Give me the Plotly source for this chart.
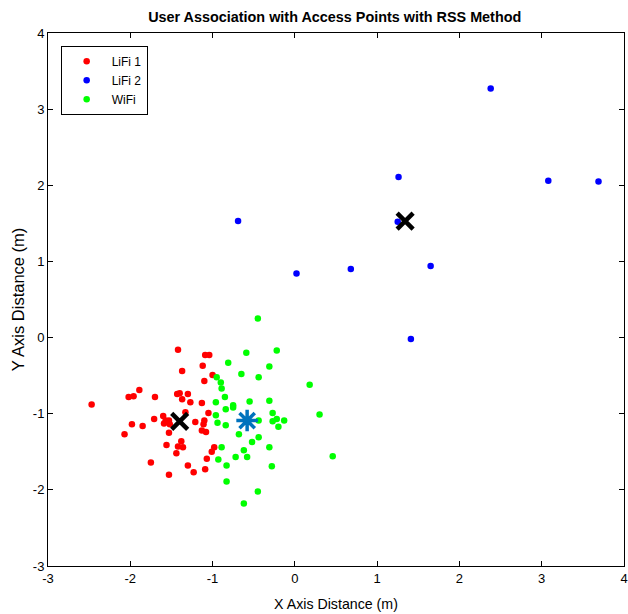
import plotly.graph_objects as go

# Users associated with LiFi AP 1
lifi1_x = [-1.42, -1.09, -1.04, -1.12, -1.37, -1.00, -1.10, -1.89, -2.02, -1.96,
           -1.70, -1.43, -1.40, -1.30, -1.37, -1.27, -1.13, -2.47, -1.33, -1.05,
           -1.60, -1.53, -1.59, -1.52, -1.57, -1.71, -1.21, -1.10, -1.11, -1.98,
           -1.85, -2.07, -1.13, -1.08, -1.53, -1.38, -1.56, -1.42, -1.36, -0.98,
           -1.01, -1.44, -1.07, -1.75, -1.30, -1.53, -1.23, -1.09]
lifi1_y = [-0.16, -0.23, -0.23, -0.37, -0.44, -0.49, -0.57, -0.69, -0.78, -0.77,
           -0.78, -0.74, -0.73, -0.74, -0.81, -0.85, -0.86, -0.88, -0.98, -0.99,
           -1.03, -1.09, -1.13, -1.14, -1.09, -1.07, -1.11, -1.09, -1.14, -1.14,
           -1.16, -1.27, -1.22, -1.24, -1.25, -1.36, -1.41, -1.43, -1.44, -1.44,
           -1.50, -1.52, -1.59, -1.64, -1.68, -1.80, -1.77, -1.73]

# Users associated with LiFi AP 2
lifi2_x = [2.38, 1.26, 3.08, 3.69, -0.69, 1.25, 0.02, 0.68, 1.65, 1.41]
lifi2_y = [3.27, 2.11, 2.06, 2.05, 1.53, 1.52, 0.84, 0.90, 0.94, -0.02]

# Users associated with the WiFi AP
wifi_x = [-0.45, -0.59, -0.22, -0.81, -0.31, -0.65, -0.44, -0.95, -0.90, -0.89,
          0.18, -0.85, -0.55, -0.31, -0.96, -0.84, -0.75, -0.75, -0.27, 0.30,
          -0.96, -0.44, -0.27, -0.22, -0.13, -0.94, -0.84, -0.20, -0.68, -0.44,
          -0.52, -0.89, -0.31, -0.62, 0.46, -0.72, -0.58, -0.93, -0.83, -0.28,
          -0.83, -0.45, -0.62]
wifi_y = [0.25, -0.20, -0.17, -0.33, -0.38, -0.48, -0.52, -0.52, -0.59, -0.67,
          -0.62, -0.78, -0.84, -0.83, -0.85, -0.94, -0.89, -0.92, -0.99, -1.01,
          -1.02, -1.09, -1.10, -1.07, -1.09, -1.12, -1.15, -1.17, -1.27, -1.31,
          -1.37, -1.44, -1.44, -1.48, -1.56, -1.57, -1.57, -1.60, -1.68, -1.69,
          -1.89, -2.02, -2.18]

# Access point locations
lifi_ap_x = [-1.40, 1.34]
lifi_ap_y = [-1.10, 1.53]
wifi_ap_x = [-0.58]
wifi_ap_y = [-1.09]

x_ticks = [-3, -2, -1, 0, 1, 2, 3, 4]
y_ticks = [-3, -2, -1, 0, 1, 2, 3, 4]

FONT = "Liberation Sans, Arial, sans-serif"

fig = go.Figure()
dot = dict(symbol="circle", size=6.5, line=dict(width=0))
fig.add_trace(go.Scatter(x=lifi1_x, y=lifi1_y, mode="markers", name="LiFi 1",
                         marker=dict(color="#FF0000", **dot)))
fig.add_trace(go.Scatter(x=lifi2_x, y=lifi2_y, mode="markers", name="LiFi 2",
                         marker=dict(color="#0000FF", **dot)))
fig.add_trace(go.Scatter(x=wifi_x, y=wifi_y, mode="markers", name="WiFi",
                         marker=dict(color="#00FF00", **dot)))
fig.add_trace(go.Scatter(x=lifi_ap_x, y=lifi_ap_y, mode="markers", showlegend=False,
                         marker=dict(symbol="x-thin-open", size=16,
                                     color="black", line=dict(width=4.5, color="black"))))
fig.add_trace(go.Scatter(x=wifi_ap_x, y=wifi_ap_y, mode="markers", showlegend=False,
                         marker=dict(symbol="asterisk-open", size=18,
                                     color="#0072BD", line=dict(width=3.5, color="#0072BD"))))

axis_common = dict(
    showgrid=False, zeroline=False, showline=True, linecolor="black", linewidth=1,
    mirror="ticks", ticks="inside", ticklen=5, tickcolor="black", tickwidth=1,
    tickfont=dict(family=FONT, size=13, color="black"), automargin=False,
)
fig.update_xaxes(range=[-3, 4], tickvals=x_ticks, ticktext=[str(v) for v in x_ticks],
                 title=dict(text="X Axis Distance (m)", standoff=14,
                            font=dict(family=FONT, size=14.2, color="black")),
                 **axis_common)
fig.update_yaxes(range=[-3, 4], tickvals=y_ticks, ticktext=[str(v) for v in y_ticks],
                 title=dict(text="Y Axis Distance (m)", standoff=4,
                            font=dict(family=FONT, size=16.5, color="black")),
                 **axis_common)

fig.update_layout(
    width=628, height=614,
    margin=dict(l=48, r=4, t=33, b=48, autoexpand=False),
    paper_bgcolor="white", plot_bgcolor="white",
    title=dict(text="<b>User Association with Access Points with RSS Method</b>",
               x=0.533, xanchor="center", y=0.972, yanchor="middle",
               font=dict(family=FONT, size=14.4, color="black")),
    legend=dict(x=0.022, y=0.976, xanchor="left", yanchor="top",
                bordercolor="black", borderwidth=1, bgcolor="white",
                font=dict(family=FONT, size=12, color="black"),
                tracegroupgap=0, itemwidth=40),
    showlegend=True,
)

fig.write_html("out.html")
